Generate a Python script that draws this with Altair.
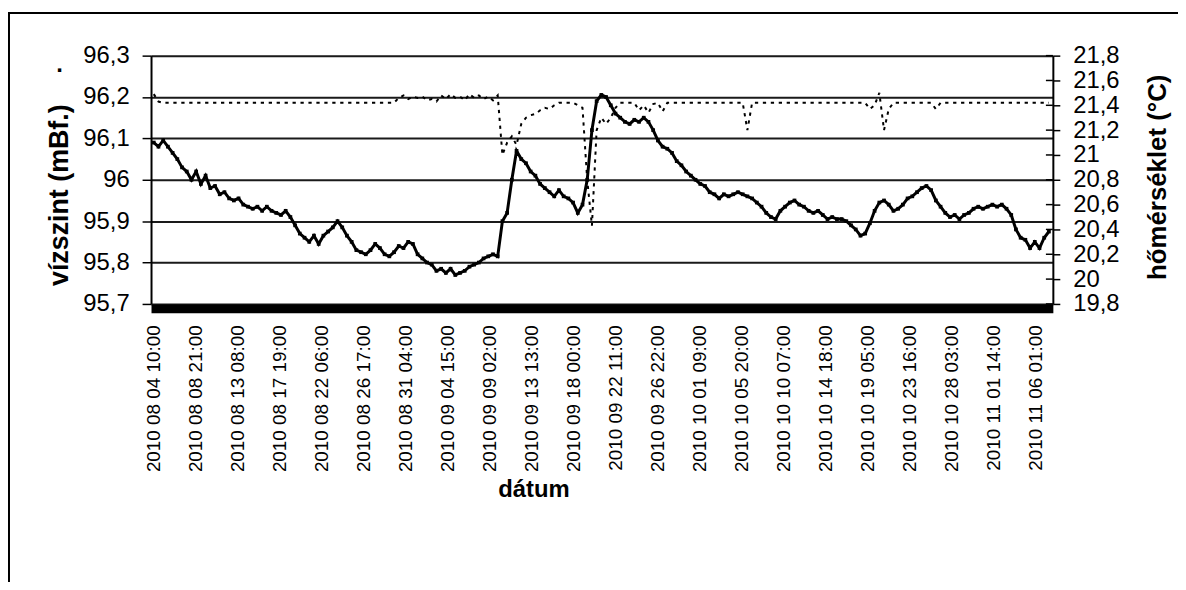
import altair as alt
import pandas as pd

# ---- data (12-hourly readings) ----
START = "2010-08-04 10:00"

level = [
    96.09, 96.08, 96.095, 96.08, 96.065, 96.05, 96.03, 96.02, 96.0, 96.02,
    95.99, 96.01, 95.98, 95.985, 95.965, 95.97, 95.955, 95.95, 95.955, 95.94,
    95.935, 95.93, 95.935, 95.925, 95.935, 95.925, 95.92, 95.915, 95.925, 95.91,
    95.89, 95.87, 95.86, 95.85, 95.865, 95.845, 95.865, 95.875, 95.885, 95.9,
    95.885, 95.865, 95.85, 95.83, 95.825, 95.82, 95.83, 95.845, 95.835, 95.82,
    95.815, 95.825, 95.84, 95.835, 95.85, 95.845, 95.82, 95.81, 95.8, 95.795,
    95.78, 95.785, 95.775, 95.785, 95.77, 95.775, 95.78, 95.79, 95.795, 95.8,
    95.81, 95.815, 95.82, 95.815, 95.9, 95.92, 96.0, 96.07, 96.05, 96.04,
    96.02, 96.01, 95.99, 95.98, 95.97, 95.96, 95.975, 95.96, 95.955, 95.945,
    95.92, 95.94, 96.0, 96.12, 96.19, 96.205, 96.2, 96.18, 96.16, 96.15,
    96.14, 96.135, 96.145, 96.14, 96.15, 96.14, 96.12, 96.095, 96.08, 96.075,
    96.065, 96.045, 96.035, 96.02, 96.01, 96.0, 95.99, 95.985, 95.97, 95.965,
    95.955, 95.965, 95.96, 95.965, 95.97, 95.965, 95.96, 95.955, 95.945, 95.935,
    95.92, 95.91, 95.905, 95.925, 95.935, 95.945, 95.95, 95.94, 95.935, 95.925,
    95.92, 95.925, 95.915, 95.905, 95.91, 95.905, 95.905, 95.9, 95.89, 95.88,
    95.865, 95.87, 95.895, 95.925, 95.945, 95.95, 95.94, 95.925, 95.93, 95.94,
    95.955, 95.96, 95.97, 95.98, 95.985, 95.975, 95.95, 95.935, 95.92, 95.91,
    95.915, 95.905, 95.915, 95.92, 95.93, 95.935, 95.93, 95.935, 95.94, 95.935,
    95.94, 95.93, 95.915, 95.88, 95.86, 95.855, 95.835, 95.85, 95.835, 95.86,
    95.875,
]

temp = [
    21.49, 21.43,
    21.42, 21.42, 21.42, 21.42, 21.42, 21.42, 21.42, 21.42, 21.42, 21.42,
    21.42, 21.42, 21.42, 21.42, 21.42, 21.42, 21.42, 21.42, 21.42, 21.42,
    21.42, 21.42, 21.42, 21.42, 21.42, 21.42, 21.42, 21.42, 21.42, 21.42,
    21.42, 21.42, 21.42, 21.42, 21.42, 21.42, 21.42, 21.42, 21.42, 21.42,
    21.42, 21.42, 21.42, 21.42, 21.42, 21.42, 21.42, 21.42, 21.42, 21.42,
    21.46, 21.48, 21.45, 21.47, 21.46, 21.47, 21.44, 21.45, 21.43, 21.48,
    21.45, 21.49, 21.46, 21.47, 21.44, 21.49, 21.46, 21.48, 21.45, 21.47,
    21.44, 21.48,
    21.0, 21.1, 21.15, 21.08, 21.25, 21.3, 21.32, 21.33, 21.36, 21.38,
    21.37, 21.4, 21.42, 21.42, 21.42, 21.42, 21.4, 21.38, 20.8, 20.43,
    21.2, 21.3, 21.25, 21.3, 21.38, 21.42, 21.42, 21.42, 21.42, 21.36,
    21.4, 21.34, 21.41, 21.42, 21.35, 21.42,
    21.42, 21.42, 21.42, 21.42, 21.42, 21.42, 21.42, 21.42, 21.42, 21.42,
    21.42, 21.42, 21.42, 21.42, 21.42, 21.42,
    21.2,
    21.42, 21.42, 21.42, 21.42, 21.42, 21.42, 21.42, 21.42, 21.42, 21.42,
    21.42, 21.42, 21.42, 21.42, 21.42, 21.42, 21.42, 21.42, 21.42, 21.42,
    21.42, 21.42, 21.42, 21.42, 21.42,
    21.37, 21.40, 21.5, 21.2, 21.37,
    21.42, 21.42, 21.42, 21.42, 21.42, 21.42, 21.42, 21.42, 21.42,
    21.37,
    21.42, 21.42, 21.42, 21.42, 21.42, 21.42, 21.42, 21.42, 21.42, 21.42,
    21.42, 21.42, 21.42, 21.42, 21.42, 21.42, 21.42, 21.42, 21.42, 21.42,
    21.42, 21.42, 21.42, 21.42,
]

tick_labels = [
    "2010 08 04 10:00", "2010 08 08 21:00", "2010 08 13 08:00", "2010 08 17 19:00",
    "2010 08 22 06:00", "2010 08 26 17:00", "2010 08 31 04:00", "2010 09 04 15:00",
    "2010 09 09 02:00", "2010 09 13 13:00", "2010 09 18 00:00", "2010 09 22 11:00",
    "2010 09 26 22:00", "2010 10 01 09:00", "2010 10 05 20:00", "2010 10 10 07:00",
    "2010 10 14 18:00", "2010 10 19 05:00", "2010 10 23 16:00", "2010 10 28 03:00",
    "2010 11 01 14:00", "2010 11 06 01:00",
]

level_ticks = [95.7, 95.8, 95.9, 96.0, 96.1, 96.2, 96.3]
temp_ticks = [19.8, 20.0, 20.2, 20.4, 20.6, 20.8, 21.0, 21.2, 21.4, 21.6, 21.8]

# ---- build ----
times = pd.date_range(START, periods=len(level), freq="12h")
df = pd.DataFrame({"t": times.strftime("%Y-%m-%dT%H:%M:%S"), "level": level, "temp": temp})


def dt(s):
    y, m, d, hm = s.split()
    h, mi = hm.split(":")
    return alt.DateTime(year=int(y), month=int(m), date=int(d), hours=int(h), minutes=int(mi))


x_ticks = [dt(s) for s in tick_labels]

W, H = 908, 250
FONT = "Liberation Sans"
comma = "replace(toString(round(datum.value*10)/10), '.', ',')"

x_enc = alt.X(
    "t:T",
    scale=alt.Scale(domain=[alt.DateTime(year=2010, month=8, date=4, hours=3),
                            alt.DateTime(year=2010, month=11, date=7, hours=20)]),
    axis=alt.Axis(
        values=x_ticks, format="%Y %m %d %H:%M", labelAngle=270, labelFontSize=19,
        labelFont=FONT, labelColor="black", labelPadding=16.5, labelFlush=False,
        labelOverlap=False, ticks=False, tickSize=0, domainWidth=9, domainColor="black",
        offset=4.5, grid=False, title="dátum", titleFont=FONT, titleFontSize=24,
        titleFontWeight="bold", titleColor="black", titleX=385, titleY=189,
        titleBaseline="alphabetic", titleAlign="center",
    ),
)

level_scale = alt.Scale(domain=[95.7, 96.3], nice=False, zero=False)
temp_scale = alt.Scale(domain=[19.8, 21.8], nice=False, zero=False)

y_level = alt.Y(
    "level:Q", scale=level_scale,
    axis=alt.Axis(
        orient="left", values=level_ticks, labelExpr=comma, labelFontSize=24, labelFont=FONT,
        labelColor="black", labelPadding=13, labelOverlap=False, labelFlush=False,
        tickSize=9, tickWidth=1.5, tickColor="black", domainWidth=2, domainColor="black",
        grid=True, gridColor="#1a1a1a", gridWidth=2,
        title="vízszint (mBf.)", titleFont=FONT, titleFontSize=27, titleFontWeight="bold",
        titleColor="black", titleAngle=270, titleX=-84, titleY=140,
        titleBaseline="alphabetic", titleAlign="center",
    ),
)

y_temp = alt.Y(
    "temp:Q", scale=temp_scale,
    axis=alt.Axis(
        orient="right", values=temp_ticks, labelExpr=comma, labelFontSize=24, labelFont=FONT,
        labelColor="black", labelPadding=13, labelOverlap=False, labelFlush=False,
        tickSize=7, tickWidth=1.5, tickColor="black", domainWidth=2, domainColor="black",
        grid=False,
        title="hőmérséklet (°C)", titleFont=FONT, titleFontSize=26, titleFontWeight="bold",
        titleColor="black", titleAngle=270, titleX=113, titleY=122,
        titleBaseline="alphabetic", titleAlign="center",
    ),
)

base = alt.Chart(df)

level_line = base.mark_line(color="black", strokeWidth=3).encode(x=x_enc, y=y_level)
level_pts = base.mark_point(shape="square", filled=True, color="black", size=14, opacity=1).encode(
    x=x_enc, y=y_level)

temp_line = base.mark_line(color="black", strokeWidth=2, strokeDash=[3.3, 4.7]).encode(
    x=x_enc, y=y_temp)
temp_inner_ticks = alt.Chart(pd.DataFrame({"temp": temp_ticks})).mark_rule(
    color="black", strokeWidth=1.5).encode(y=y_temp, x=alt.value(W - 7), x2=alt.value(W))

one = pd.DataFrame({"a": [0]})
frame = alt.Chart(one).mark_rect(filled=False, stroke="black", strokeWidth=2).encode(
    x=alt.value(-143), x2=alt.value(W + 400), y=alt.value(-43), y2=alt.value(H + 500))
stray_dot = alt.Chart(one).mark_text(
    text=".", font=FONT, fontSize=24, fontWeight="bold", color="black",
    align="center", baseline="alphabetic").encode(x=alt.value(-92), y=alt.value(16))

chart = alt.layer(
    frame,
    alt.layer(temp_line, temp_inner_ticks),
    alt.layer(level_line, level_pts),
    stray_dot,
).resolve_scale(y="independent").properties(
    width=W, height=H,
    autosize=alt.AutoSizeParams(type="none"),
    padding={"left": 144, "top": 46, "right": 126, "bottom": 278},
).configure_view(stroke=None).configure(background="white")

chart.save("out.html", embed_options={"renderer": "svg", "actions": False})
